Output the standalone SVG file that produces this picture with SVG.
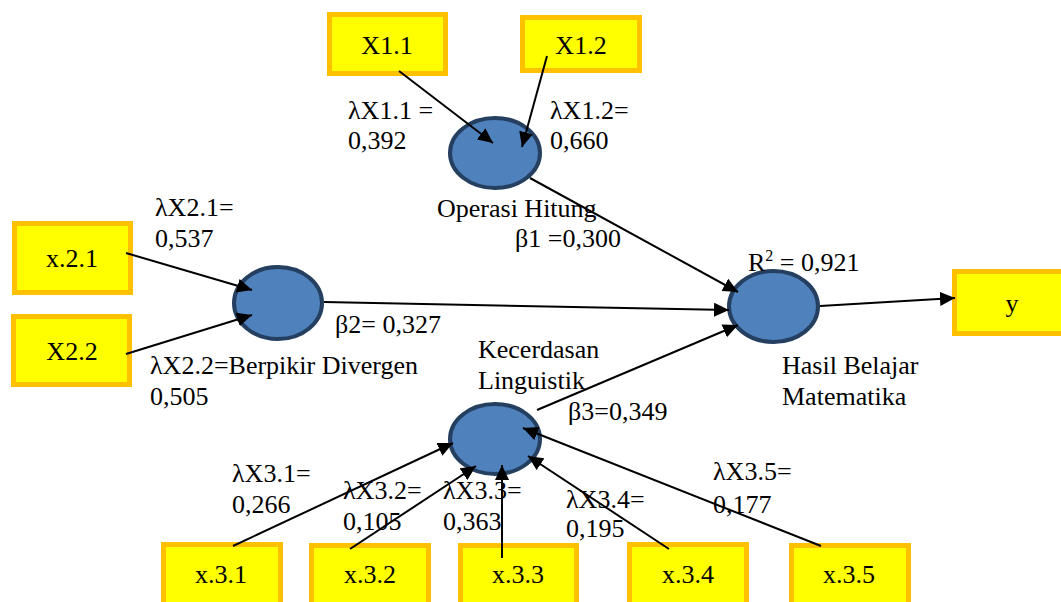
<svg xmlns="http://www.w3.org/2000/svg" width="1061" height="602" viewBox="0 0 1061 602">
<style>
.box{fill:#FFFF00;stroke:#FFC000;stroke-width:5}
.lv{fill:#4F81BD;stroke:#243F60;stroke-width:4}
text{font-family:'Liberation Serif','Times New Roman','DejaVu Serif',serif;font-size:26px;fill:#000}
.c{text-anchor:middle}
.e{stroke:#000;stroke-width:2;fill:none;marker-end:url(#ah)}
</style>
<defs>
<marker id="ah" markerUnits="userSpaceOnUse" markerWidth="16" markerHeight="14" refX="15" refY="7" orient="auto">
<path d="M0,0 L15,7 L0,14 z" fill="#000"/>
</marker>
</defs>
<rect width="1061" height="602" fill="#fff"/>
<g id="X1.1"><rect class="box" x="329.5" y="14.5" width="116" height="59"/><text class="c" x="387" y="54">X1.1</text></g>
<g id="X1.2"><rect class="box" x="522.5" y="17.5" width="117" height="53"/><text class="c" x="581" y="54">X1.2</text></g>
<g id="x.2.1"><rect class="box" x="14.5" y="223.5" width="116" height="69"/><text class="c" x="72" y="267">x.2.1</text></g>
<g id="X2.2"><rect class="box" x="13.5" y="316.5" width="116" height="68"/><text class="c" x="72" y="360">X2.2</text></g>
<g id="y"><rect class="box" x="954.5" y="271.5" width="112" height="62"/><text class="c" x="1012" y="312">y</text></g>
<g id="x.3.1"><rect class="box" x="163.5" y="544.5" width="117" height="64"/><text class="c" x="221" y="583">x.3.1</text></g>
<g id="x.3.2"><rect class="box" x="311.5" y="545.5" width="117" height="64"/><text class="c" x="370" y="583">x.3.2</text></g>
<g id="x.3.3"><rect class="box" x="460.5" y="545.5" width="116" height="64"/><text class="c" x="518" y="583">x.3.3</text></g>
<g id="x.3.4"><rect class="box" x="629.5" y="544.5" width="117" height="64"/><text class="c" x="688" y="583">x.3.4</text></g>
<g id="x.3.5"><rect class="box" x="791.5" y="545.5" width="117" height="64"/><text class="c" x="849" y="583">x.3.5</text></g>
<g id="OperasiHitung"><ellipse class="lv" cx="495" cy="153" rx="45" ry="35"/><text x="437" y="217">Operasi Hitung</text></g>
<g id="BerpikirDivergen"><ellipse class="lv" cx="278" cy="303" rx="44" ry="36"/><text x="150" y="374">λX2.2=Berpikir Divergen</text></g>
<g id="KecerdasanLinguistik"><ellipse class="lv" cx="495" cy="439" rx="45" ry="35"/><text x="478" y="358">Kecerdasan</text><text x="478" y="389">Linguistik</text></g>
<g id="HasilBelajar"><ellipse class="lv" cx="773.5" cy="306.5" rx="44.5" ry="35.5"/><text x="748" y="271">R<tspan font-size="16" dy="-10">2</tspan><tspan dy="10"> = 0,921</tspan></text><text x="782" y="374">Hasil Belajar</text><text x="782" y="405">Matematika</text></g>
<g id="connectors">
<line class="e" x1="399" y1="71" x2="493" y2="143"/>
<line class="e" x1="547" y1="56" x2="522" y2="147"/>
<line class="e" x1="530" y1="178" x2="738" y2="292"/>
<line class="e" x1="126" y1="253" x2="252" y2="290"/>
<line class="e" x1="126" y1="354" x2="252" y2="315"/>
<line class="e" x1="324" y1="302" x2="729" y2="310"/>
<line class="e" x1="537" y1="410" x2="738" y2="325"/>
<line class="e" x1="820" y1="306" x2="955" y2="298"/>
<line class="e" x1="233" y1="546" x2="453" y2="443"/>
<line class="e" x1="350" y1="549" x2="476" y2="466"/>
<line class="e" x1="502" y1="558" x2="502" y2="465"/>
<line class="e" x1="669" y1="549" x2="528" y2="456"/>
<line class="e" x1="821" y1="546" x2="523" y2="428"/>
</g>
<g id="labels">
<text x="348" y="119">λX1.1 =</text><text x="348" y="149">0,392</text>
<text x="550" y="119">λX1.2=</text><text x="550" y="149">0,660</text>
<text x="155" y="216">λX2.1=</text><text x="155" y="247">0,537</text>
<text x="150" y="405">0,505</text>
<text x="515" y="247">β1 =0,300</text>
<text x="335" y="333">β2= 0,327</text>
<text x="568" y="420">β3=0,349</text>
<text x="232" y="482">λX3.1=</text><text x="232" y="513">0,266</text>
<text x="343" y="499">λX3.2=</text><text x="343" y="530">0,105</text>
<text x="443" y="499">λX3.3=</text><text x="443" y="530">0,363</text>
<text x="566" y="508">λX3.4=</text><text x="566" y="537">0,195</text>
<text x="713" y="480">λX3.5=</text><text x="713" y="513">0,177</text>
</g>
</svg>
